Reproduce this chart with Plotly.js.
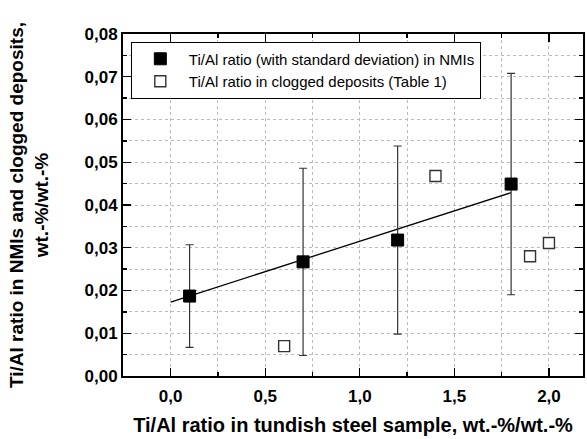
<!DOCTYPE html>
<html>
<head>
<meta charset="utf-8">
<script src="https://cdn.plot.ly/plotly-3.0.1.min.js"></script>
<style>html,body{margin:0;padding:0;background:#fff;}#chart{width:587px;height:439px;}</style>
</head>
<body>
<div id="chart"></div>
<script>
// NMI ratios with standard deviation
const nmiX = [0.1, 0.7, 1.2, 1.8];
const nmiY = [0.0187, 0.0267, 0.0318, 0.0449];
const nmiErr = [0.0120, 0.0219, 0.0220, 0.0259];
// Clogged deposits (Table 1)
const depX = [0.6, 1.4, 1.9, 2.0];
const depY = [0.0070, 0.0468, 0.0280, 0.0311];
// Linear fit line endpoints
const fitX = [0.0, 1.8];
const fitY = [0.0173, 0.0429];

const xTicks = [0.0, 0.5, 1.0, 1.5, 2.0];
const yTicks = [0.00, 0.01, 0.02, 0.03, 0.04, 0.05, 0.06, 0.07, 0.08];

const fontFam = 'Liberation Sans, Arial, sans-serif';

const traces = [
  {
    x: fitX, y: fitY, mode: 'lines', type: 'scatter',
    line: {color: '#000', width: 1.3}, showlegend: false, hoverinfo: 'skip'
  },
  {
    x: nmiX, y: nmiY, mode: 'markers', type: 'scatter',
    name: 'Ti/Al ratio (with standard deviation) in NMIs',
    marker: {symbol: 'square', size: 12, color: '#000', line: {color: '#000', width: 1}},
    error_y: {type: 'data', array: nmiErr, visible: true, color: '#333', thickness: 1.2, width: 4}
  },
  {
    x: depX, y: depY, mode: 'markers', type: 'scatter',
    name: 'Ti/Al ratio in clogged deposits (Table 1)',
    marker: {symbol: 'square', size: 11, color: '#fff', line: {color: '#333', width: 1.4}}
  }
];

const axisCommon = {
  showline: true, linecolor: '#000', linewidth: 2, mirror: 'ticks',
  ticks: 'inside', ticklen: 8, tickwidth: 1.3, tickcolor: '#000',
  showgrid: true, gridcolor: '#bbb', griddash: 'dot', gridwidth: 1,
  zeroline: false,
  tickfont: {family: fontFam, size: 17, color: '#000', weight: 'bold'}
};

const layout = {
  width: 587, height: 439,
  margin: {l: 123, r: 4, t: 34, b: 63},
  paper_bgcolor: '#fff', plot_bgcolor: '#fff',
  separators: ', ',
  font: {family: fontFam, color: '#000'},
  xaxis: Object.assign({}, axisCommon, {
    range: [-0.252, 2.18], tickvals: xTicks, tickformat: '.1f', ticklabelstandoff: 4,
    minor: {dtick: 0.25, tick0: 0, ticks: 'inside', ticklen: 4, tickcolor: '#000', showgrid: true, gridcolor: '#bbb', griddash: 'dot'},
    title: {text: 'Ti/Al ratio in tundish steel sample, wt.-%/wt.-%', font: {family: fontFam, size: 20, color: '#000', weight: 'bold'}, standoff: 13}
  }),
  yaxis: Object.assign({}, axisCommon, {
    range: [0, 0.08], tickvals: yTicks, tickformat: '.2f',
    minor: {dtick: 0.005, tick0: 0, ticks: 'inside', ticklen: 4, tickcolor: '#000', showgrid: true, gridcolor: '#bbb', griddash: 'dot'},
    title: {text: 'Ti/Al ratio in NMIs and clogged deposits,<br>wt.-%/wt.-%', font: {family: fontFam, size: 19, color: '#000', weight: 'bold'}, standoff: 31}
  }),
  legend: {
    x: 0.017, y: 0.978, xanchor: 'left', yanchor: 'top',
    bgcolor: '#fff', bordercolor: '#000', borderwidth: 1,
    font: {family: fontFam, size: 15, color: '#000'},
    tracegroupgap: 0, itemwidth: 47
  },
  showlegend: true
};

Plotly.newPlot('chart', traces, layout, {displayModeBar: false, staticPlot: true});
</script>
</body>
</html>
